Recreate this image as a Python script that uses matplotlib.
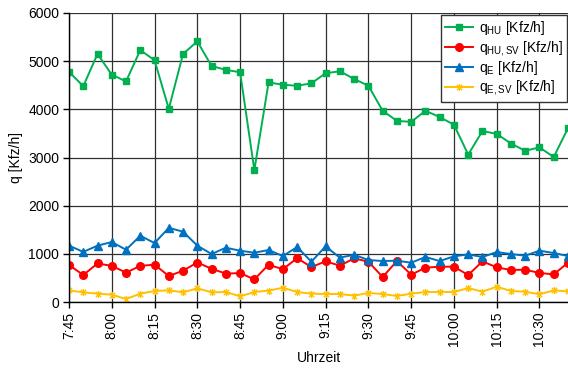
import matplotlib
matplotlib.use("Agg")
import matplotlib.pyplot as plt
from matplotlib.path import Path

plt.rcParams["font.family"] = ["Liberation Sans", "DejaVu Sans"]
plt.rcParams["mathtext.fontset"] = "custom"
plt.rcParams["mathtext.rm"] = "Liberation Sans"
plt.rcParams["mathtext.default"] = "regular"

# 5-minute intervals from 7:45 to 10:40
times = ["7:45", "7:50", "7:55", "8:00", "8:05", "8:10", "8:15", "8:20", "8:25",
         "8:30", "8:35", "8:40", "8:45", "8:50", "8:55", "9:00", "9:05", "9:10",
         "9:15", "9:20", "9:25", "9:30", "9:35", "9:40", "9:45", "9:50", "9:55",
         "10:00", "10:05", "10:10", "10:15", "10:20", "10:25", "10:30", "10:35", "10:40"]

q_hu = [4780, 4480, 5150, 4720, 4580, 5230, 5020, 4010, 5150, 5410, 4900, 4820,
        4770, 2740, 4560, 4510, 4490, 4540, 4750, 4790, 4630, 4490, 3970, 3760,
        3740, 3970, 3840, 3680, 3060, 3550, 3490, 3290, 3140, 3210, 3010, 3610]
q_hu_sv = [770, 560, 800, 750, 610, 750, 775, 540, 650, 820, 690, 590,
           600, 470, 775, 680, 910, 726, 844, 754, 906, 837, 519, 851,
           567, 712, 733, 733, 560, 844, 719, 664, 671, 602, 574, 816]
q_e = [1170, 1040, 1170, 1245, 1085, 1376, 1224, 1540, 1460, 1170, 996, 1127,
       1065, 1023, 1079, 954, 1141, 837, 1155, 920, 982, 871, 851, 857,
       816, 934, 851, 947, 989, 934, 1037, 996, 961, 1065, 1017, 954]
q_e_sv = [242, 201, 173, 152, 62, 173, 228, 242, 201, 284, 201, 207,
          117, 207, 235, 297, 207, 173, 166, 166, 131, 187, 166, 124,
          173, 207, 207, 207, 290, 214, 318, 228, 214, 159, 242, 221]

labels = [r"q$_{HU}$ [Kfz/h]", r"q$_{HU,SV}$ [Kfz/h]",
          r"q$_{E}$ [Kfz/h]", r"q$_{E,SV}$ [Kfz/h]"]

x = list(range(len(times)))

# x with a vertical bar through it
star = Path([(-1, -1), (1, 1), (-1, 1), (1, -1), (0, -1.3), (0, 1.3)],
            [Path.MOVETO, Path.LINETO, Path.MOVETO, Path.LINETO, Path.MOVETO, Path.LINETO])

fig = plt.figure(figsize=(5.68, 3.69), dpi=100)
ax = fig.add_axes([69 / 568, 67 / 369, 499 / 568, 289 / 369])

lw = 1.4
ax.plot(x, q_hu, color="#00B050", lw=lw, marker="s", ms=5, label=labels[0])
ax.plot(x, q_hu_sv, color="#FF0000", lw=lw, marker="o", ms=5.5, label=labels[1])
ax.plot(x, q_e, color="#0070C0", lw=lw, marker="^", ms=5.5, label=labels[2])
ax.plot(x, q_e_sv, color="#FFC000", lw=lw, marker=star, ms=5, mew=1.0, label=labels[3])

ax.set_xlim(0, len(times) - 1)
ax.set_ylim(0, 6000)
ax.set_yticks(range(0, 6001, 1000))
tick_idx = list(range(0, len(times), 3))
ax.set_xticks(tick_idx)
ax.set_xticklabels([times[i] for i in tick_idx], rotation=90)

ax.grid(True, color="#303030", lw=0.9)
ax.set_axisbelow(True)
for s in ("top", "right"):
    ax.spines[s].set_visible(False)
for s in ("left", "bottom"):
    ax.spines[s].set_color("black")
    ax.spines[s].set_linewidth(1.0)
ax.tick_params(axis="both", direction="out", length=4, width=1, labelsize=10, pad=3)

ax.set_xlabel("Uhrzeit", fontsize=10, labelpad=3)
ax.set_ylabel("q [Kfz/h]", fontsize=10, labelpad=4)

leg = ax.legend(loc="upper right", bbox_to_anchor=(567 / 568, 1 - 15 / 369),
                bbox_transform=fig.transFigure, borderaxespad=0, fontsize=10,
                fancybox=False, framealpha=1, edgecolor="#333333",
                handlelength=2.0, handletextpad=0.45, labelspacing=0.1,
                borderpad=0.3)
leg.get_frame().set_linewidth(1.0)

fig.savefig("out.png", dpi=100)
